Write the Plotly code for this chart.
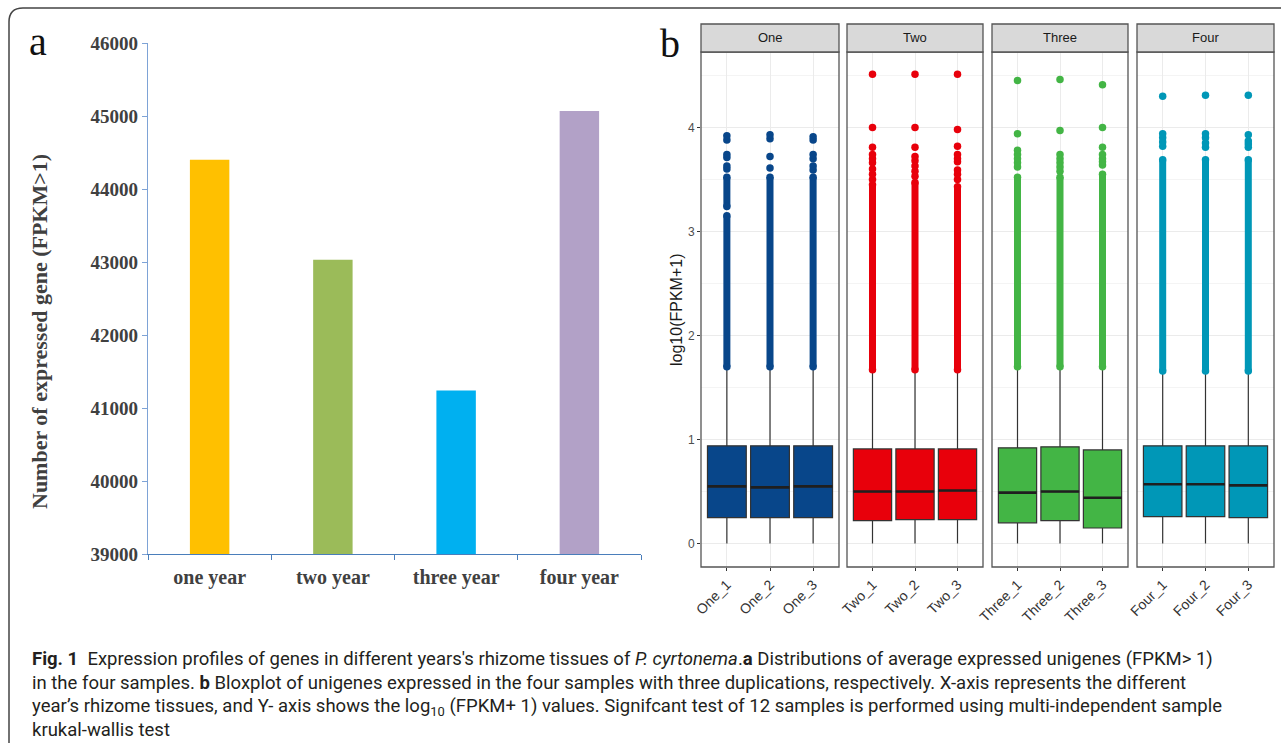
import plotly.graph_objects as go

# ---------------- data ----------------
years = ["one year", "two year", "three year", "four year"]
expressed_genes = [44400, 43030, 41240, 45070]
bar_colors = ["#FFC000", "#9BBB59", "#00B0F0", "#B2A1C7"]

groups = ["One", "Two", "Three", "Four"]
group_colors = ["#08468A", "#E8000B", "#43B545", "#0097B7"]
samples = [["One_1", "One_2", "One_3"],
           ["Two_1", "Two_2", "Two_3"],
           ["Three_1", "Three_2", "Three_3"],
           ["Four_1", "Four_2", "Four_3"]]
q1 = [[0.25, 0.25, 0.25], [0.22, 0.23, 0.23], [0.20, 0.22, 0.15], [0.26, 0.26, 0.25]]
median = [[0.55, 0.54, 0.55], [0.50, 0.50, 0.51], [0.49, 0.50, 0.44], [0.57, 0.57, 0.56]]
q3 = [[0.94, 0.94, 0.94], [0.91, 0.91, 0.91], [0.92, 0.93, 0.90], [0.94, 0.94, 0.94]]
lower_fence = [[0, 0, 0], [0, 0, 0], [0, 0, 0], [0, 0, 0]]
upper_fence = [[1.69, 1.69, 1.69], [1.67, 1.67, 1.67], [1.69, 1.69, 1.69], [1.66, 1.66, 1.66]]
# dense runs of outliers (low, high) and isolated outliers
dense_outliers = [
    [[(1.70, 3.15), (3.24, 3.52)], [(1.70, 3.52)], [(1.70, 3.52)]],
    [[(1.67, 3.45)], [(1.67, 3.47)], [(1.67, 3.43)]],
    [[(1.70, 3.52)], [(1.70, 3.52)], [(1.70, 3.55)]],
    [[(1.66, 3.69)], [(1.66, 3.69)], [(1.66, 3.69)]],
]
sparse_outliers = [
    [[3.60, 3.63, 3.71, 3.74, 3.88, 3.92], [3.61, 3.72, 3.89, 3.93], [3.59, 3.63, 3.70, 3.74, 3.88, 3.91]],
    [[3.50, 3.55, 3.60, 3.66, 3.70, 3.74, 3.81, 4.00, 4.51],
     [3.53, 3.58, 3.63, 3.68, 3.72, 3.81, 4.00, 4.51],
     [3.50, 3.55, 3.59, 3.67, 3.70, 3.74, 3.82, 3.98, 4.51]],
    [[3.62, 3.66, 3.70, 3.74, 3.78, 3.94, 4.45],
     [3.58, 3.62, 3.66, 3.70, 3.74, 3.97, 4.46],
     [3.64, 3.67, 3.70, 3.74, 3.81, 4.00, 4.41]],
    [[3.82, 3.86, 3.90, 3.94, 4.30], [3.81, 3.85, 3.90, 3.94, 4.31], [3.81, 3.84, 3.87, 3.93, 4.31]],
]

caption_lines = [
    "<b>Fig. 1</b>  Expression profiles of genes in different years's rhizome tissues of <i>P. cyrtonema</i>.<b>a</b> Distributions of average expressed unigenes (FPKM> 1)",
    "in the four samples. <b>b</b> Bloxplot of unigenes expressed in the four samples with three duplications, respectively. X-axis represents the different",
    "year\u2019s rhizome tissues, and Y- axis shows the log<sub>10</sub> (FPKM+ 1) values. Signifcant test of 12 samples is performed using multi-independent sample",
    "krukal-wallis test",
]

# ---------------- layout helpers ----------------
W, H = 1281, 743
def px(x):
    return x / W
def py(y):
    return 1 - y / H

fig = go.Figure()

# ---------- panel a ----------
fig.add_trace(go.Bar(x=years, y=expressed_genes, marker=dict(color=bar_colors, line=dict(width=0)),
                     xaxis="x", yaxis="y", showlegend=False))

serif = "Liberation Serif, Times New Roman, serif"
sans = "Liberation Sans, Arial, sans-serif"

layout = dict(
    width=W, height=H, margin=dict(l=0, r=0, t=0, b=0, pad=0, autoexpand=False),
    paper_bgcolor="white", plot_bgcolor="white", showlegend=False,
    bargap=0.68,
    xaxis=dict(domain=[px(148), px(641)], anchor="y", showline=True, linecolor="#4A7EBB", linewidth=1.3,
               ticks="outside", tickson="boundaries", ticklen=5, tickcolor="#4A7EBB", ticklabelstandoff=5,
               tickfont=dict(family=serif, size=20, color="#404040", weight="bold"), showgrid=False,
               automargin=False),
    yaxis=dict(domain=[py(554), py(43)], anchor="x", range=[39000, 46000], dtick=1000, tickformat="d",
               showline=True, linecolor="#7EA3D6", linewidth=1.3, ticks="outside", ticklen=5,
               tickcolor="#7EA3D6", showgrid=False, zeroline=False, automargin=False,
               tickfont=dict(family=serif, size=19, color="#404040", weight="bold")),
)

annotations = [
    dict(text="a", x=px(38), y=py(42), xref="paper", yref="paper", showarrow=False,
         font=dict(family=serif, size=40, color="#111"), xanchor="center", yanchor="middle"),
    dict(text="Number of expressed gene (FPKM>1)", x=px(40), y=py(332), xref="paper", yref="paper",
         showarrow=False, textangle=-90, font=dict(family=serif, size=22, color="#404040", weight="bold"),
         xanchor="center", yanchor="middle"),
    dict(text="b", x=px(670), y=py(44), xref="paper", yref="paper", showarrow=False,
         font=dict(family=serif, size=40, color="#111"), xanchor="center", yanchor="middle"),
    dict(text="log10(FPKM+1)", x=px(676), y=py(310), xref="paper", yref="paper", showarrow=False,
         textangle=-90, font=dict(family=sans, size=16, color="#1a1a1a"), xanchor="center", yanchor="middle"),
]
shapes = []

# ---------- panel b ----------
facet_x = [(701, 839), (847, 983), (992, 1128), (1137, 1274)]
panel_top, panel_bottom, strip_top = 52, 567, 24

for g, grp in enumerate(groups):
    n = g + 2
    xa, ya = f"x{n}", f"y{n}"
    col = group_colors[g]
    for i, s in enumerate(samples[g]):
        fig.add_trace(go.Box(x=[i], q1=[q1[g][i]], median=[median[g][i]], q3=[q3[g][i]],
                             lowerfence=[lower_fence[g][i]], upperfence=[upper_fence[g][i]],
                             width=0.9, fillcolor=col, line=dict(color="#333333", width=1.2),
                             whiskerwidth=0, boxpoints=False, xaxis=xa, yaxis=ya, name=s))
        fig.add_trace(go.Scatter(x=[i - 0.45, i + 0.45], y=[median[g][i]] * 2, mode="lines",
                                 line=dict(color="#1f1f1f", width=2.6), xaxis=xa, yaxis=ya, hoverinfo="skip"))
        for lo, hi in dense_outliers[g][i]:
            fig.add_trace(go.Scatter(x=[i, i], y=[lo, hi], mode="lines+markers",
                                     line=dict(color=col, width=7), marker=dict(size=7.5, color=col),
                                     xaxis=xa, yaxis=ya, hoverinfo="skip"))
        pts = sparse_outliers[g][i]
        fig.add_trace(go.Scatter(x=[i] * len(pts), y=pts, mode="markers",
                                 marker=dict(size=7.5, color=col), xaxis=xa, yaxis=ya))

    x0, x1 = facet_x[g]
    layout[f"xaxis{n}"] = dict(domain=[px(x0), px(x1)], anchor=ya, range=[-0.6, 2.6],
                               tickvals=[0, 1, 2], ticktext=samples[g], tickangle=-45,
                               ticks="outside", ticklen=3, tickcolor="#333", showline=False,
                               showgrid=True, gridcolor="#EBEBEB", gridwidth=1, zeroline=False,
                               automargin=False, tickfont=dict(family=sans, size=14, color="#333"))
    ydict = dict(domain=[py(panel_bottom), py(panel_top)], anchor=xa, range=[-0.225, 4.725],
                 dtick=1, showgrid=True, gridcolor="#EBEBEB", gridwidth=1, zeroline=False, automargin=False,
                 minor=dict(dtick=0.5, showgrid=True, gridcolor="#F4F4F4", gridwidth=1))
    if g == 0:
        ydict.update(ticks="outside", ticklen=3, tickcolor="#333",
                     tickfont=dict(family=sans, size=12, color="#4D4D4D"))
    else:
        ydict.update(showticklabels=False, ticks="", matches="y2")
    layout[f"yaxis{n}"] = ydict

    shapes.append(dict(type="rect", xref=f"{xa} domain", yref=f"{ya} domain", x0=0, x1=1, y0=0, y1=1,
                       line=dict(color="#555555", width=1.3), fillcolor="rgba(0,0,0,0)", layer="above"))
    shapes.append(dict(type="rect", xref="paper", yref="paper", x0=px(x0), x1=px(x1),
                       y0=py(panel_top), y1=py(strip_top), line=dict(color="#555555", width=1.3),
                       fillcolor="#D9D9D9"))
    annotations.append(dict(text=grp, x=px((x0 + x1) / 2), y=py((strip_top + panel_top) / 2),
                            xref="paper", yref="paper", showarrow=False, xanchor="center", yanchor="middle",
                            font=dict(family=sans, size=13, color="#1a1a1a")))

# ---------- outer frame ----------
r = 14
shapes.append(dict(type="path", xref="paper", yref="paper",
                   path=f"M {px(9)},{py(760)} L {px(9)},{py(8 + r)} Q {px(9)},{py(8)} {px(9 + r)},{py(8)} L {px(1300)},{py(8)}",
                   line=dict(color="#444444", width=1.5)))

# ---------- caption ----------
for k, line in enumerate(caption_lines):
    annotations.append(dict(text=line, x=px(30), y=py(659 + 23.8 * k), xref="paper", yref="paper",
                            showarrow=False, xanchor="left", yanchor="middle", align="left",
                            font=dict(family="Roboto, Open Sans, sans-serif", size=18.5, color="#231F20")))

layout["annotations"] = annotations
layout["shapes"] = shapes
fig.update_layout(**layout)
fig.write_html("out.html", config={"displayModeBar": False},
               post_script="document.body.style.margin='0';document.body.style.padding='0';"
                           "document.body.style.overflow='hidden';")
